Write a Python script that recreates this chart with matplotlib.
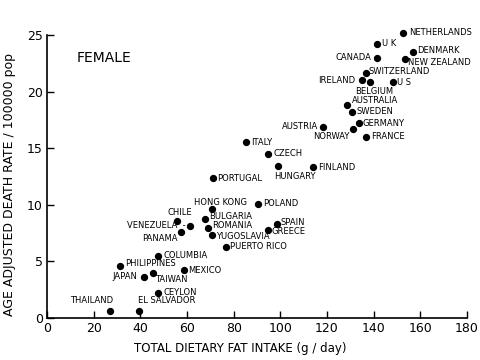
import matplotlib.pyplot as plt

# fat intake (g/day) vs age adjusted breast cancer death rate, female
countries = ["NETHERLANDS", "U K", "CANADA", "DENMARK", "NEW ZEALAND",
             "SWITZERLAND", "IRELAND", "BELGIUM", "U S", "AUSTRALIA",
             "SWEDEN", "GERMANY", "NORWAY", "AUSTRIA", "FRANCE",
             "ITALY", "CZECH", "HUNGARY", "FINLAND", "PORTUGAL",
             "HONG KONG", "POLAND", "SPAIN", "GREECE", "CHILE",
             "VENEZUELA  -", "PANAMA", "BULGARIA", "ROMANIA", "YUGOSLAVIA",
             "PUERTO RICO", "COLUMBIA", "PHILIPPINES", "MEXICO", "JAPAN",
             "TAIWAN", "CEYLON", "THAILAND", "EL SALVADOR"]
fat = [152.6, 141.3, 141.3, 156.9, 153.3,
       136.6, 134.8, 138.4, 148.1, 128.5,
       130.6, 133.7, 131.1, 118.3, 136.9,
       85.2, 94.8, 99.1, 114.0, 71.1,
       70.5, 90.5, 98.7, 94.8, 55.6,
       61.4, 57.2, 67.5, 68.8, 70.5,
       76.7, 47.7, 31.4, 58.9, 41.4,
       45.2, 47.7, 27.1, 39.6]
death = [25.2, 24.2, 23.0, 23.5, 22.9,
         21.6, 21.0, 20.8, 20.8, 18.8,
         18.2, 17.2, 16.7, 16.9, 16.0,
         15.5, 14.5, 13.4, 13.3, 12.4,
         9.6, 10.1, 8.3, 7.8, 8.6,
         8.1, 7.6, 8.7, 7.9, 7.3,
         6.3, 5.5, 4.6, 4.2, 3.65,
         4.0, 2.2, 0.65, 0.65]

# label placement: (dx, dy) in pixels, horizontal alignment
label_pos = {
    "NETHERLANDS": (6, 0, "left"), "U K": (5, 0, "left"),
    "CANADA": (-5, 0, "right"), "DENMARK": (4, 1, "left"),
    "NEW ZEALAND": (3, -4, "left"), "SWITZERLAND": (3, 2, "left"),
    "IRELAND": (-6, 0, "right"), "BELGIUM": (4, -9, "center"),
    "U S": (4, 0, "left"), "AUSTRALIA": (5, 5, "left"),
    "SWEDEN": (5, 0, "left"), "GERMANY": (3, 0, "left"),
    "NORWAY": (-3, -8, "right"), "AUSTRIA": (-5, 0, "right"),
    "FRANCE": (5, 0, "left"), "ITALY": (5, 0, "left"),
    "CZECH": (5, 0, "left"), "HUNGARY": (-4, -10, "left"),
    "FINLAND": (5, 0, "left"), "PORTUGAL": (4, -1, "left"),
    "HONG KONG": (9, 7, "center"), "POLAND": (5, 0, "left"),
    "SPAIN": (3, 1, "left"), "GREECE": (3, -2, "left"),
    "CHILE": (3, 8, "center"), "VENEZUELA  -": (-5, 1, "right"),
    "PANAMA": (-3, -7, "right"), "BULGARIA": (5, 3, "left"),
    "ROMANIA": (5, 3, "left"), "YUGOSLAVIA": (4, -1, "left"),
    "PUERTO RICO": (4, 0, "left"), "COLUMBIA": (5, 0, "left"),
    "PHILIPPINES": (5, 2, "left"), "MEXICO": (4, 0, "left"),
    "JAPAN": (-6, 0, "right"), "TAIWAN": (3, -7, "left"),
    "CEYLON": (5, 0, "left"), "THAILAND": (3, 10, "right"),
    "EL SALVADOR": (-1, 10, "left"),
}

xticks = [0, 20, 40, 60, 80, 100, 120, 140, 160, 180]
yticks = [0, 5, 10, 15, 20, 25]

fig = plt.figure(figsize=(4.8, 3.6), dpi=100)
ax = fig.add_axes([0.098, 0.117, 0.875, 0.786])

ax.scatter(fat, death, s=18, color="black", zorder=3, clip_on=False)
for name, x, y in zip(countries, fat, death):
    dx, dy, ha = label_pos[name]
    ax.annotate(name, (x, y), xytext=(dx, dy), textcoords="offset pixels",
                ha=ha, va="center", fontsize=6, annotation_clip=False)

ax.text(12.5, 23.0, "FEMALE", fontsize=10, va="center")

ax.set_xlim(0, 180)
ax.set_ylim(0, 25)
ax.set_xticks(xticks)
ax.set_yticks(yticks)
ax.spines["top"].set_visible(False)
ax.spines["right"].set_visible(False)
ax.spines["left"].set_linewidth(1.2)
ax.spines["bottom"].set_linewidth(1.2)
ax.tick_params(direction="in", length=5, width=1, labelsize=9, pad=3)

ax.set_xlabel("TOTAL DIETARY FAT INTAKE (g / day)", fontsize=8.5)
ax.xaxis.set_label_coords(0.46, -0.085)
ax.set_ylabel("AGE ADJUSTED DEATH RATE / 100000 pop", fontsize=9)
ax.yaxis.set_label_coords(-0.075, 0.47)

fig.savefig("out.png", dpi=100)
